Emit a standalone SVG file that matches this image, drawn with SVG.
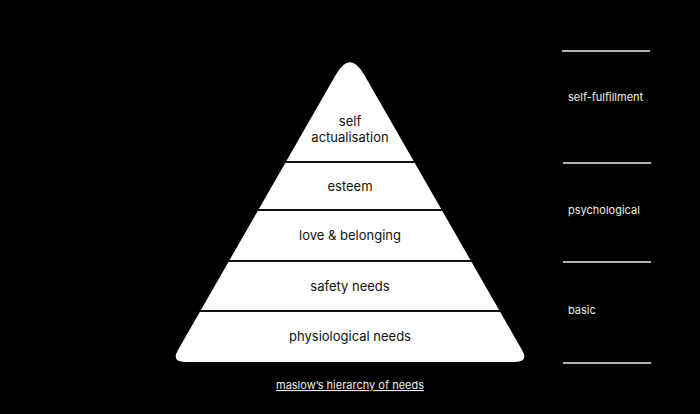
<svg xmlns="http://www.w3.org/2000/svg" width="700" height="414" viewBox="0 0 700 414">
<style>
.lvl{font-family:Inter,"Liberation Sans",sans-serif;font-size:13px;fill:#111;text-anchor:middle}
.side{font-family:Inter,"Liberation Sans",sans-serif;font-size:11px;fill:#eee}
.sep{stroke:#111;stroke-width:2}
.rule{stroke:#eee;stroke-width:1.5}
</style>
<rect width="700" height="414" fill="#000"/>
<g id="pyramid">
<path d="M336.1,74.3 Q350,50 363.9,74.3 L522,349.9 Q529,362 515,362 L185,362 Q171,362 178,349.9 Z" fill="#fff"/>
</g>
<g id="connectors">
<line class="sep" x1="284" y1="162" x2="416" y2="162"/>
<line class="sep" x1="257" y1="210" x2="443" y2="210"/>
<line class="sep" x1="228" y1="261" x2="472" y2="261"/>
<line class="sep" x1="199" y1="311" x2="501" y2="311"/>
<line class="rule" x1="562" y1="51" x2="650" y2="51"/>
<line class="rule" x1="563" y1="163" x2="651" y2="163"/>
<line class="rule" x1="563" y1="262" x2="651" y2="262"/>
<line class="rule" x1="563" y1="363" x2="651" y2="363"/>
</g>
<g id="self-actualisation"><text class="lvl" x="350" y="126">self</text><text class="lvl" x="350" y="142">actualisation</text></g>
<g id="esteem"><text class="lvl" x="350" y="191">esteem</text></g>
<g id="love-belonging"><text class="lvl" x="350" y="240">love &amp; belonging</text></g>
<g id="safety"><text class="lvl" x="350" y="291">safety needs</text></g>
<g id="physiological"><text class="lvl" x="350" y="341">physiological needs</text></g>
<g id="self-fulfillment"><text class="side" x="568" y="101">self-fulfillment</text></g>
<g id="psychological"><text class="side" x="568" y="214">psychological</text></g>
<g id="basic"><text class="side" x="568" y="314">basic</text></g>
<g id="caption"><text class="side" x="350" y="389" text-anchor="middle" text-decoration="underline">maslow’s hierarchy of needs</text></g>
</svg>
